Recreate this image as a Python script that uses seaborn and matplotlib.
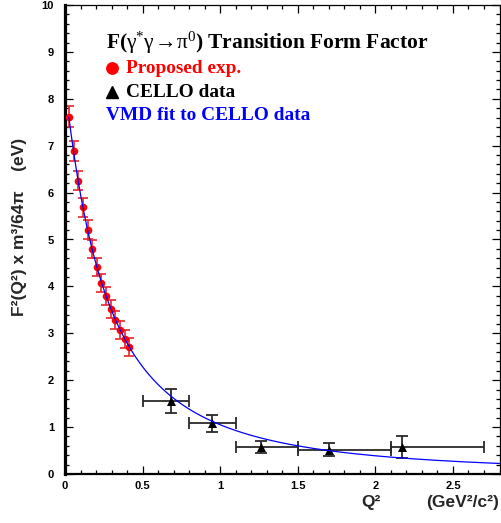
import numpy as np
import pandas as pd
import matplotlib
matplotlib.use("Agg")
import matplotlib.pyplot as plt
import seaborn as sns

# Proposed measurement: Q^2 (GeV^2/c^2), F^2 m^3/64pi (eV), error
prop_q2 = [0.025, 0.055, 0.085, 0.115, 0.145, 0.175, 0.205,
           0.235, 0.265, 0.295, 0.325, 0.355, 0.385, 0.415]
prop_val = [7.62, 6.89, 6.25, 5.69, 5.21, 4.79, 4.41,
            4.08, 3.79, 3.52, 3.28, 3.07, 2.88, 2.71]
prop_err = [0.22, 0.21, 0.20, 0.20, 0.20, 0.19, 0.19,
            0.19, 0.19, 0.19, 0.19, 0.19, 0.19, 0.19]

# CELLO data with Q^2 bin edges
cello_q2 = [0.686, 0.947, 1.264, 1.699, 2.17]
cello_lo = [0.50, 0.80, 1.10, 1.50, 2.10]
cello_hi = [0.80, 1.10, 1.50, 2.10, 2.70]
cello_val = [1.56, 1.08, 0.58, 0.52, 0.58]
cello_err = [0.25, 0.18, 0.13, 0.135, 0.23]

# VMD form factor fit: A / (1 + Q^2/Lambda^2)^2, drawn over [q_min, q_max]
vmd_amp = 8.32
vmd_lambda2 = 0.551
vmd_range = (0.025, 2.8)

x_ticks = [0, 0.5, 1, 1.5, 2, 2.5]
x_tick_labels = ["0", "0.5", "1", "1.5", "2", "2.5"]
y_ticks = list(range(0, 11))

sns.set_theme(style="ticks")
plt.rcParams["font.family"] = ["Liberation Sans", "DejaVu Sans"]
plt.rcParams["mathtext.fontset"] = "custom"
plt.rcParams["mathtext.rm"] = "Liberation Serif"
plt.rcParams["mathtext.it"] = "Liberation Serif:italic"
plt.rcParams["mathtext.bf"] = "Liberation Serif:bold"

W, H = 501, 523
fig = plt.figure(figsize=(W / 100, H / 100), dpi=100)
ax = fig.add_axes([65 / W, 1 - 474 / H, 434.5 / W, 469 / H])

prop = pd.DataFrame({"q2": prop_q2, "val": prop_val, "err": prop_err})
cello = pd.DataFrame({"q2": cello_q2, "lo": cello_lo, "hi": cello_hi,
                      "val": cello_val, "err": cello_err})

# VMD curve
q = np.linspace(vmd_range[0], vmd_range[1], 400)
fit = pd.DataFrame({"q2": q, "val": vmd_amp / (1 + q / vmd_lambda2) ** 2})

# CELLO points
xerr = np.vstack([cello["q2"] - cello["lo"], cello["hi"] - cello["q2"]])
ax.errorbar(cello["q2"], cello["val"], xerr=xerr, yerr=cello["err"],
            fmt="none", ecolor="#2a2a2a", elinewidth=1.3, capsize=4,
            capthick=1.3, zorder=2)
sns.scatterplot(data=cello, x="q2", y="val", marker="^", s=42,
                color="black", edgecolor="black", linewidth=0, ax=ax,
                zorder=3)

# Proposed measurement points
ax.errorbar(prop["q2"], prop["val"], yerr=prop["err"], fmt="none",
            ecolor="#e8262a", elinewidth=1.2, capsize=3.5, capthick=1.2,
            zorder=2)
sns.scatterplot(data=prop, x="q2", y="val", marker="o", s=30,
                color="#ff0000", edgecolor="#ff0000", linewidth=0, ax=ax,
                zorder=3)

sns.lineplot(data=fit, x="q2", y="val", color="#0000ff", linewidth=0.9,
             ax=ax, zorder=4)

ax.set_xlim(0, 2.8)
ax.set_ylim(0, 10)
ax.set_xlabel("")
ax.set_ylabel("")

ax.set_xticks(x_ticks)
ax.set_xticklabels(x_tick_labels)
ax.set_xticks(np.arange(0, 2.81, 0.1), minor=True)
ax.set_yticks(y_ticks)
ax.set_yticks(np.arange(0, 10.01, 0.2), minor=True)

ax.tick_params(which="both", direction="in", top=True, right=True,
               color="black", labelsize=8, labelcolor="black")
ax.tick_params(which="major", length=6, width=0.9)
ax.tick_params(which="minor", length=3, width=0.9)
ax.tick_params(axis="y", which="major", pad=8)
ax.tick_params(axis="x", which="major", pad=5)
for lab in ax.get_xticklabels() + ax.get_yticklabels():
    lab.set_fontweight("bold")

for side in ["top", "right"]:
    ax.spines[side].set_linewidth(0.9)
    ax.spines[side].set_color("black")
ax.spines["left"].set_linewidth(2.3)
ax.spines["bottom"].set_linewidth(1.6)
ax.spines["left"].set_color("black")
ax.spines["bottom"].set_color("black")

# Axis titles
fig.text(20 / W, 1 - 227 / H, "F\u00b2(Q\u00b2) x m\u00b3/64\u03c0    (eV)",
         rotation=90, ha="center", va="center", fontsize=12.5,
         fontweight="bold")
fig.text(371 / W, 1 - 502 / H, "Q\u00b2", ha="center", va="center",
         fontsize=12.5, fontweight="bold")
fig.text(499 / W, 1 - 503 / H, "(GeV\u00b2/c\u00b2)", ha="right",
         va="center", fontsize=12.5, fontweight="bold")

# Legend block
serif = ["Liberation Serif", "DejaVu Serif"]
fs = 13.9
fig.text(106 / W, 1 - 49 / H,
         r"$\mathbf{F(}\mathrm{\gamma}^{*}\mathrm{\gamma}\!\rightarrow\!"
         r"\mathrm{\pi}^{0}\mathbf{)\ Transition\ Form\ Factor}$",
         fontsize=15.5, color="black", va="baseline")
ax.plot([111.5 / W], [1 - 68 / H], marker="o", markersize=8.2,
        color="#ff0000", transform=fig.transFigure, clip_on=False)
fig.text(126 / W, 1 - 73 / H, "Proposed exp.", family=serif,
         fontweight="bold", fontsize=fs, color="#ff0000", va="baseline")
ax.plot([111.5 / W], [1 - 92 / H], marker="^", markersize=8.5,
        color="black", transform=fig.transFigure, clip_on=False)
fig.text(126 / W, 1 - 97 / H, "CELLO data", family=serif,
         fontweight="bold", fontsize=fs, color="black", va="baseline")
fig.text(106 / W, 1 - 120 / H, "VMD fit to CELLO data", family=serif,
         fontweight="bold", fontsize=fs, color="#0000ff", va="baseline")

fig.savefig("out.png", dpi=100)
